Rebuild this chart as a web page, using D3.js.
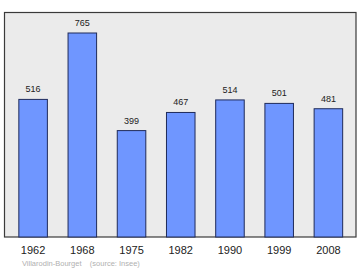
<!DOCTYPE html>
<html>
<head>
<meta charset="utf-8">
<script src="https://cdn.jsdelivr.net/npm/d3@7"></script>
<style>
  body { margin: 0; background: #fff; }
  svg { display: block; font-family: "Liberation Sans", Arial, sans-serif; }
</style>
</head>
<body>
<div id="chart"></div>
<script>
// population by census year
var years = ["1962", "1968", "1975", "1982", "1990", "1999", "2008"];
var population = [516, 765, 399, 467, 514, 501, 481];

var width = 360, height = 270;
var plot = {left: 4.5, top: 12.5, right: 356, bottom: 237};

var svg = d3.select("#chart").append("svg")
    .attr("width", width)
    .attr("height", height);

var x = d3.scaleBand()
    .domain(years)
    .range([8.5, 353])
    .paddingInner(0.42)
    .paddingOuter(0.21);

var y = d3.scaleLinear()
    .domain([0, 765])
    .range([plot.bottom, 33]);

// plot background + frame
svg.append("rect")
    .attr("x", plot.left)
    .attr("y", plot.top)
    .attr("width", plot.right - plot.left)
    .attr("height", plot.bottom - plot.top)
    .attr("fill", "#ebebeb")
    .attr("stroke", "#3a3a3a")
    .attr("stroke-width", 1.2);

var bars = svg.selectAll(".bar")
    .data(population)
    .enter().append("g");

bars.append("rect")
    .attr("x", function(d, i) { return x(years[i]); })
    .attr("y", function(d) { return y(d); })
    .attr("width", x.bandwidth())
    .attr("height", function(d) { return plot.bottom - y(d); })
    .attr("fill", "#6f96ff")
    .attr("stroke", "#1f2b5a")
    .attr("stroke-width", 1);

bars.append("text")
    .attr("x", function(d, i) { return x(years[i]) + x.bandwidth() / 2; })
    .attr("y", function(d) { return y(d) - 7; })
    .attr("text-anchor", "middle")
    .attr("font-size", 9)
    .attr("fill", "#222")
    .text(function(d) { return d; });

// year labels
svg.selectAll(".year")
    .data(years)
    .enter().append("text")
    .attr("x", function(d) { return x(d) + x.bandwidth() / 2; })
    .attr("y", 254)
    .attr("text-anchor", "middle")
    .attr("font-size", 11)
    .attr("fill", "#222")
    .text(function(d) { return d; });

svg.append("text")
    .attr("x", 22)
    .attr("y", 266)
    .attr("font-size", 7.5)
    .attr("fill", "#b0b0b0")
    .attr("xml:space", "preserve")
    .text("Villarodin-Bourget    (source: Insee)");
</script>
</body>
</html>
